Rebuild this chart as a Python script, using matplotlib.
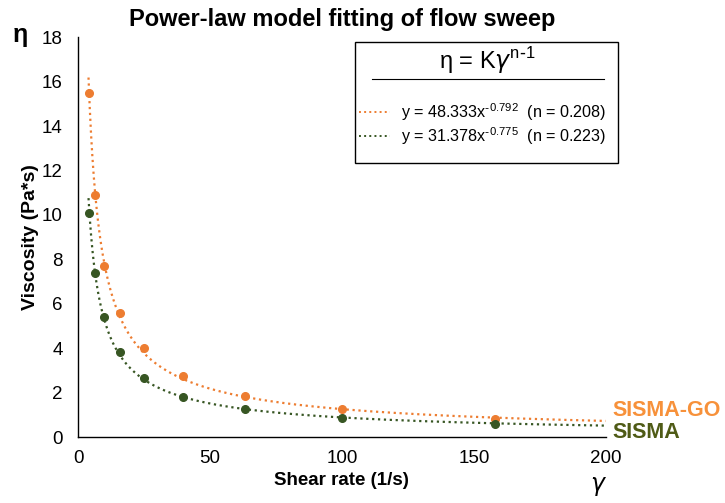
import numpy as np
import matplotlib.pyplot as plt
from matplotlib.patches import Rectangle
from matplotlib.lines import Line2D

plt.rcParams["font.family"] = ["Liberation Sans", "DejaVu Sans"]

shear_rate = [3.98, 6.31, 10.0, 15.8, 25.1, 39.8, 63.1, 100.0, 158.0]
visc_go = [15.5, 10.9, 7.7, 5.6, 4.0, 2.75, 1.85, 1.25, 0.8]
visc_sisma = [10.1, 7.4, 5.4, 3.85, 2.65, 1.8, 1.25, 0.85, 0.6]

# power-law fit coefficients shown in the legend
k_go, p_go, n_go = 48.333, -0.792, 0.208
k_sisma, p_sisma, n_sisma = 31.378, -0.775, 0.223

orange = "#ED7D31"
green = "#375623"

fig = plt.figure(figsize=(7.25, 5.03), dpi=100)
ax = fig.add_axes([0.1076, 0.131, 0.728, 0.795])

xfit = np.linspace(shear_rate[0], 200, 400)
ax.plot(xfit, k_go * xfit ** p_go, ls=":", lw=1.6, color=orange)
ax.plot(xfit, k_sisma * xfit ** p_sisma, ls=":", lw=1.6, color=green)
ax.plot(shear_rate, visc_go, "o", ms=5.5, color=orange)
ax.plot(shear_rate, visc_sisma, "o", ms=5.5, color=green)

ax.set_xlim(0, 200)
ax.set_ylim(0, 18)
ax.set_xticks([0, 50, 100, 150, 200])
ax.set_yticks(range(0, 19, 2))
ax.tick_params(labelsize=13.5, length=0)
ax.tick_params(axis="y", pad=11)
ax.tick_params(axis="x", pad=9)
for s in ["top", "right"]:
    ax.spines[s].set_visible(False)
ax.spines["left"].set_linewidth(1.0)
ax.spines["bottom"].set_linewidth(1.0)

ax.set_xlabel("Shear rate (1/s)", fontsize=13.5, fontweight="bold", labelpad=4)
ax.set_ylabel("Viscosity (Pa*s)", fontsize=14, fontweight="bold", labelpad=2)
ax.set_title("Power-law model fitting of flow sweep", fontsize=17,
             fontweight="bold", pad=8)

fig.text(13 / 725, 1 - 35 / 503, "η", fontsize=18, fontweight="bold",
         va="center", ha="left")
fig.text(597 / 725, 1 - 484 / 503, "γ", fontsize=17, fontstyle="italic",
         family="DejaVu Sans", va="center", ha="center")

fig.text(612 / 725, 1 - 411 / 503, "SISMA-GO", fontsize=15.5, fontweight="bold",
         color="#F7913A", va="center")
fig.text(612 / 725, 1 - 432 / 503, "SISMA", fontsize=15.5, fontweight="bold",
         color="#4F5B16", va="center")

# legend box
W, H = 725.0, 503.0
fig.patches.append(Rectangle((355 / W, 1 - 163 / H), 263 / W, 121 / H,
                             transform=fig.transFigure, fill=False,
                             edgecolor="black", lw=1.0))
fig.text(487 / W, 1 - 61 / H, r"η = K$\gamma^{\mathregular{n\text{-}1}}$",
         fontsize=17, ha="center", va="center")
fig.lines.append(Line2D([372 / W, 604 / W], [1 - 79 / H, 1 - 79 / H],
                        transform=fig.transFigure, color="black", lw=0.8))
entries = [
    (orange, k_go, p_go, n_go, 112),
    (green, k_sisma, p_sisma, n_sisma, 136),
]
for col, k, p, n, yy in entries:
    fig.lines.append(Line2D([359 / W, 390 / W], [1 - yy / H, 1 - yy / H],
                            transform=fig.transFigure, color=col, ls=":", lw=1.4))
    exp_txt = f"{p:.3f}".replace("-", r"\text{-}")
    fig.text(401 / W, 1 - yy / H,
             f"y = {k:.3f}x$^{{\\mathregular{{{exp_txt}}}}}$  (n = {n:.3f})",
             fontsize=11.6, ha="left", va="center")

fig.savefig("out.png", dpi=100)
